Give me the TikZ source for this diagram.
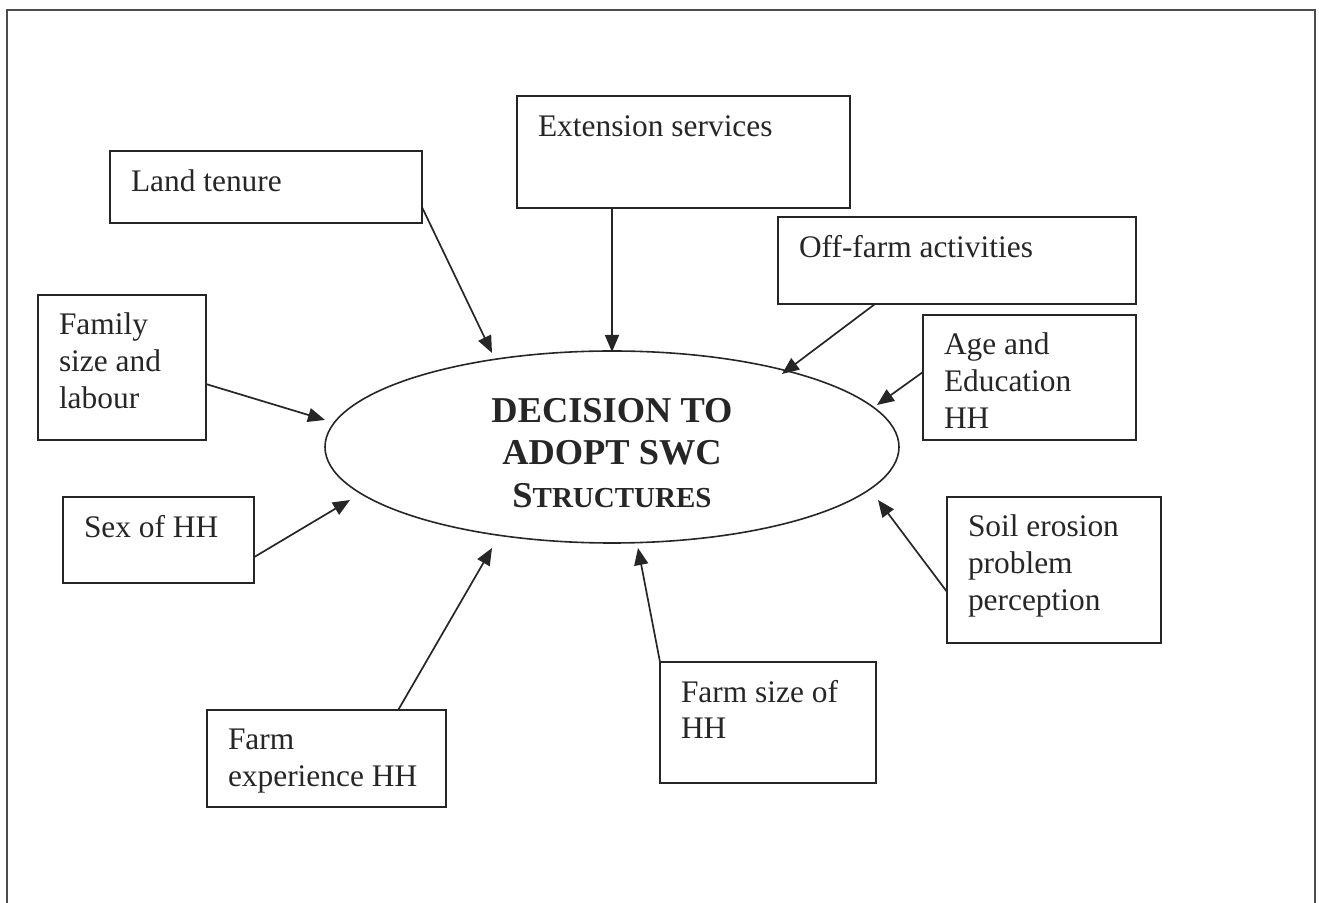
\documentclass[tikz,border=0pt]{standalone}
\usepackage{fontspec}
\setmainfont{Liberation Serif}
\usetikzlibrary{shapes.geometric,arrows.meta,calc}
\definecolor{ink}{gray}{0.15}
\tikzset{
  box/.style={draw=ink, line width=0.9pt, rectangle, inner sep=0pt, outer sep=0pt, anchor=north west},
  lbl/.style={anchor=base west, inner sep=0pt, outer sep=0pt, align=left, text=ink,
    font=\fontsize{15.7}{18.35}\selectfont},
  title/.style={anchor=base, inner sep=0pt, outer sep=0pt, text=ink,
    font=\fontsize{18.2}{21.5}\selectfont\bfseries},
  conn/.style={draw=ink, line width=0.85pt, -{Triangle[length=8.5pt,width=7pt]}},
}
\begin{document}
\begin{tikzpicture}[x=0.5pt,y=-0.5pt]
\useasboundingbox (0,0) rectangle (1319,903);
% outer frame
\draw[draw=black!70, line width=0.9pt] (7,903) -- (7,10) -- (1315,10) -- (1315,903);

% central ellipse
\node[draw=ink, line width=0.8pt, ellipse, inner sep=0pt, outer sep=0pt,
      minimum width=287pt, minimum height=96pt] (ell) at (612,447) {};
\node[title] (t1) at (612,423) {DECISION TO};
\node[title] (t2) at (612,465) {ADOPT SWC};
\node[title] (t3) at (612,508) {S{\fontsize{14.5}{21.5}\selectfont TRUCTURES}};

% boxes (multi-line labels: base anchor = last line's baseline)
\node[box, minimum width=156pt, minimum height=36pt] (lt) at (110,151) {};
\node[lbl] (ltt) at ($(lt.north west)+(21,41)$) {Land tenure};

\node[box, minimum width=166.5pt, minimum height=56pt] (ext) at (517,96) {};
\node[lbl] (extt) at ($(ext.north west)+(21,41)$) {Extension services};

\node[box, minimum width=179pt, minimum height=43.5pt] (off) at (778,217) {};
\node[lbl] (offt) at ($(off.north west)+(21,41)$) {Off-farm activities};

\node[box, minimum width=84pt, minimum height=72.5pt] (fam) at (38,295) {};
\node[lbl] (famt) at ($(fam.north west)+(21,113.4)$) {Family\\size and\\labour};

\node[box, minimum width=106.5pt, minimum height=62.5pt] (age) at (923,315) {};
\node[lbl] (aget) at ($(age.north west)+(21,113.4)$) {Age and\\Education\\HH};

\node[box, minimum width=95.5pt, minimum height=43pt] (sex) at (63,497) {};
\node[lbl] (sext) at ($(sex.north west)+(21,41)$) {Sex of HH};

\node[box, minimum width=107pt, minimum height=73pt] (soil) at (947,497) {};
\node[lbl] (soilt) at ($(soil.north west)+(21,113.4)$) {Soil erosion\\problem\\perception};

\node[box, minimum width=119.5pt, minimum height=48.5pt] (fexp) at (207,710) {};
\node[lbl] (fexpt) at ($(fexp.north west)+(21,76.7)$) {Farm\\experience HH};

\node[box, minimum width=108pt, minimum height=60.5pt] (fsize) at (660,662) {};
\node[lbl] (fsizet) at ($(fsize.north west)+(21,76.7)$) {Farm size of\\HH};

% connectors (tips placed relative to the ellipse centre)
\draw[conn] ($(lt.north east)!0.78!(lt.south east)$) -- ($(ell.center)+(-120,-94)$);
\draw[conn] ($(ext.south west)!0.285!(ext.south east)$) -- ($(ell.center)+(0,-95)$);
\draw[conn] ($(off.south west)!0.271!(off.south east)$) -- ($(ell.center)+(170,-73)$);
\draw[conn] ($(age.north west)!0.456!(age.south west)$) -- ($(ell.center)+(265,-42)$);
\draw[conn] ($(fam.north east)!0.614!(fam.south east)$) -- ($(ell.center)+(-287,-27)$);
\draw[conn] ($(sex.north east)!0.70!(sex.south east)$) -- ($(ell.center)+(-262,53)$);
\draw[conn] ($(fexp.north west)!0.80!(fexp.north east)$) -- ($(ell.center)+(-120,101)$);
\draw[conn] (fsize.north west) -- ($(ell.center)+(26,101)$);
\draw[conn] ($(soil.north west)!0.65!(soil.south west)$) -- ($(ell.center)+(266,53)$);
\end{tikzpicture}
\end{document}
